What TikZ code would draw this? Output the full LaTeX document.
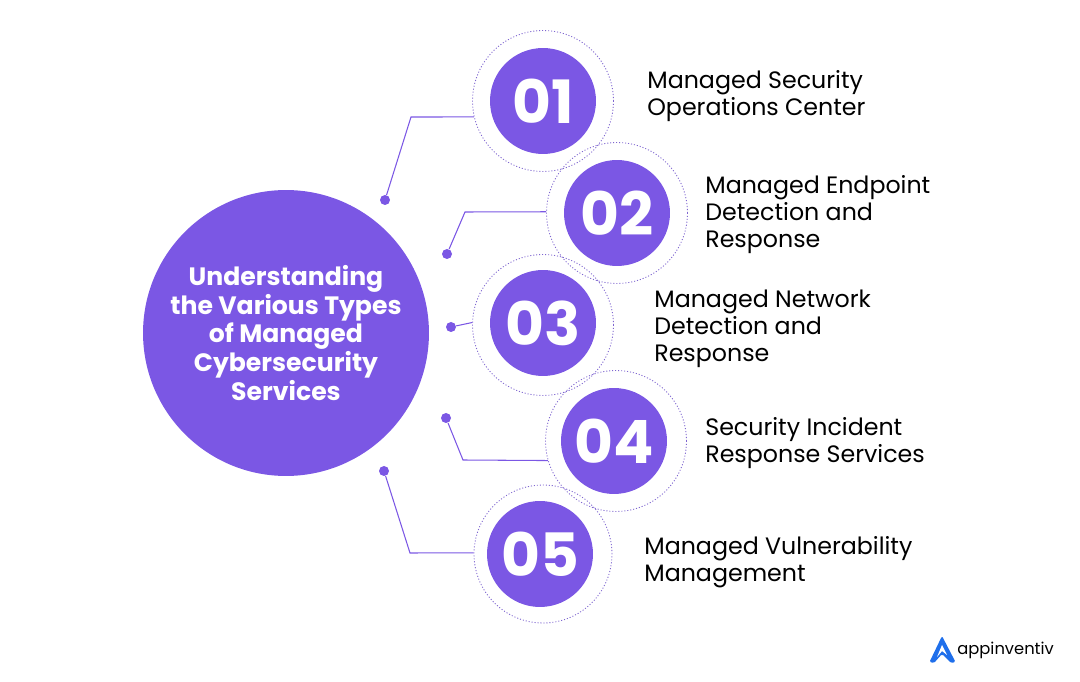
\documentclass[tikz,border=0pt]{standalone}
\usepackage{fontspec}
\setmainfont{Poppins}
\usepackage{tikz}
\usetikzlibrary{positioning, shapes, arrows}
\definecolor{violet1}{HTML}{7B57E4}
\definecolor{ringc}{HTML}{7F66D0}
\definecolor{logoblue}{HTML}{1F6FEB}
\tikzstyle{point}  = [coordinate]
\tikzstyle{hub}    = [circle, fill=violet1, text=white, minimum size=5.72cm, inner sep=0pt, align=center, font=\fontsize{14.3}{16.4}\selectfont\bfseries]
\tikzstyle{badge}  = [circle, fill=violet1, text=white, minimum size=2.12cm, inner sep=0pt, font=\fontsize{34}{34}\selectfont\bfseries]
\tikzstyle{ring}   = [circle, draw=ringc, dash pattern=on 0.6pt off 1.1pt, line width=0.5pt, minimum size=2.82cm, inner sep=0pt]
\tikzstyle{tick}   = [circle, fill=violet1, minimum size=0.2cm, inner sep=0pt]
\tikzstyle{label}  = [anchor=west, align=left, inner sep=0pt, font=\fontsize{13.5}{15.3}\selectfont]
\tikzstyle{lead}   = [draw=violet1, line width=0.6pt]

\begin{document}
\begin{tikzpicture}[x=0.02cm, y=-0.02cm]
	\useasboundingbox (0,0) rectangle (1080,682);

	\node [hub] (hub) at (286,333) {Understanding\\the Various Types\\of Managed\\Cybersecurity\\Services};

	\node [ring] (ring1) at (543,101) {};
	\node [ring] (ring2) at (617,213) {};
	\node [ring] (ring3) at (543,325) {};
	\node [ring] (ring4) at (616,441) {};
	\node [ring, minimum size=2.76cm] (ring5) at (543,554) {};

	\node [badge] (num1) at (543,101) {01};
	\node [badge] (num2) at (617,213) {02};
	\node [badge] (num3) at (543,323) {03};
	\node [badge] (num4) at (614,441) {04};
	\node [badge] (num5) at (540,554) {05};

	\node [label] (text1) at (647,96) {Managed Security\\Operations Center};
	\node [label] (text2) at (705,214.5) {Managed Endpoint\\Detection and\\Response};
	\node [label] (text3) at (654,328.5) {Managed Network\\Detection and\\Response};
	\node [label] (text4) at (705,443) {Security Incident\\Response Services};
	\node [label] (text5) at (644,562.5) {Managed Vulnerability\\Management};

	\node [tick] (dot1) at (385,200) {};
	\node [tick] (dot2) at (447,254) {};
	\node [tick] (dot3) at (451,327) {};
	\node [tick] (dot4) at (446,418) {};
	\node [tick] (dot5) at (384,471) {};

	\node [point] (bend1) at (411,117) {};
	\node [point] (bend2) at (465,212) {};
	\node [point] (bend4) at (463,460) {};
	\node [point] (bend5) at (410,553) {};

	\draw [lead] (dot1) -- (bend1) -- (ring1.193);
	\draw [lead] (dot2) -- (bend2) -- (ring2.179);
	\draw [lead] (dot3) -- (ring3.178);
	\draw [lead] (dot4) -- (bend4) -- (ring4.196);
	\draw [lead] (dot5) -- (bend5) -- (ring5.179);

	% logo
	\fill [logoblue, rounded corners=0.8pt] (942,636) -- (955.5,662) -- (951,663) -- (942,654) -- (934,663) -- (929.5,662) -- cycle;
	\fill [white] (942,645) -- (947,655) -- (942,651) -- (937,657) -- cycle;
	\node [anchor=west, inner sep=0pt, font=\fontsize{9.3}{9.3}\selectfont] (logo) at (957,650) {appinventiv};
\end{tikzpicture}
\end{document}
